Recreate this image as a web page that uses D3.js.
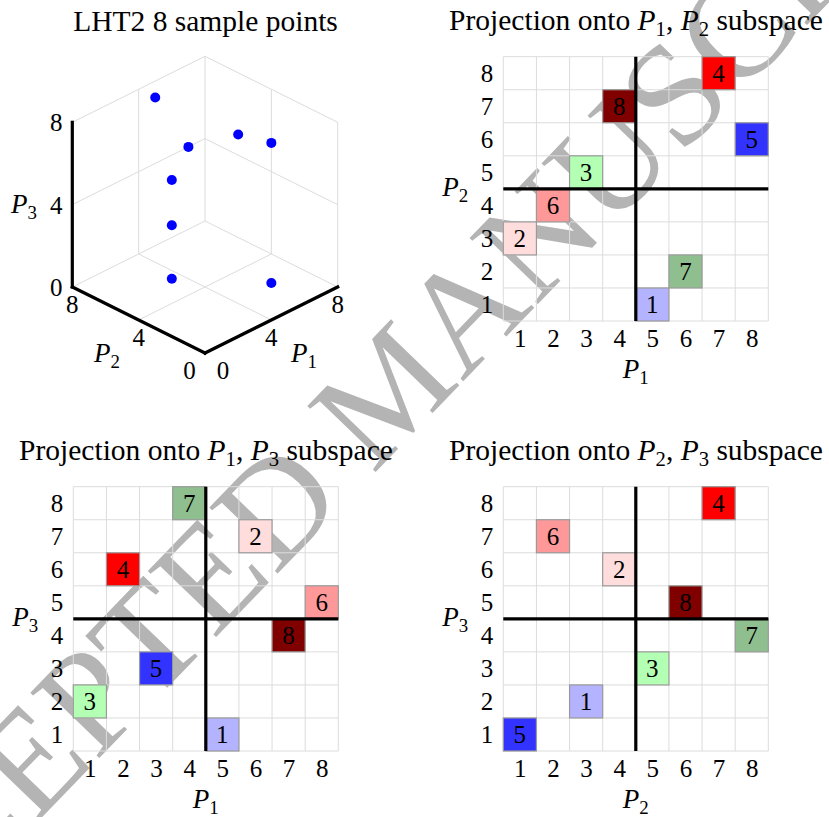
<html>
<head>
<meta charset="utf-8">
<script src="https://cdn.jsdelivr.net/npm/d3@7"></script>
<style>
@font-face { font-family: "LSerifX"; src: local("Liberation Serif"), local("LiberationSerif"), local("LiberationSerif-Regular"); font-style: normal; }
@font-face { font-family: "LSerifX"; src: local("Liberation Serif Italic"), local("LiberationSerif-Italic"); font-style: italic; }
</style>
</head>
<body style="margin:0">
<script>
// ---------- data ----------
const pointLabels = [1, 2, 3, 4, 5, 6, 7, 8];
const pointColors = ["#b3b3ff", "#ffdddd", "#b3ffb3", "#ff0000", "#3333ff", "#ff9999", "#8fbf8f", "#800000"];

// 3D sample points
const sampleP1 = [5, 1, 3, 7, 8, 2, 6, 4];
const sampleP2 = [1, 3, 5, 8, 6, 4, 2, 7];
const sampleP3 = [1, 2, 3, 4, 5, 6, 7, 8];
const ticks3D = [0, 4, 8];

// projections as drawn
const projP1P2_x = [5, 1, 3, 7, 8, 2, 6, 4];
const projP1P2_y = [1, 3, 5, 8, 6, 4, 2, 7];
const projP1P3_x = [5, 6, 1, 2, 3, 8, 4, 7];
const projP1P3_y = [1, 7, 2, 6, 3, 5, 8, 4];
const projP2P3_x = [3, 4, 5, 7, 1, 2, 8, 6];
const projP2P3_y = [2, 6, 3, 8, 1, 7, 4, 5];
const ticks2D = [1, 2, 3, 4, 5, 6, 7, 8];
const splitValue = 4.5;

const watermarkText = "ACCEPTED MANUSCRIPT";

// ---------- setup ----------
const W = 829, H = 817;
const FONTLIST = "\"Liberation Serif\", \"LSerifX\", \"Tinos\", \"Times New Roman\", monospace";
const svg = d3.select("body").append("svg")
  .attr("width", W).attr("height", H);
svg.append("rect").attr("width", W).attr("height", H).attr("fill", "#fff");

function serif(sel) { return sel.style("font-family", FONTLIST); }

// watermark (beneath everything)
serif(svg.append("text"))
  .attr("transform", "translate(-173,1040) rotate(-46)")
  .attr("font-size", 145)
  .attr("fill", "#b4b4b4")
  .text(watermarkText);

// helper: text with italic P and subscripts. parts: array of strings or {P:n}
function richText(sel, parts, fs) {
  const sub = 0.7 * fs, shift = 0.22 * fs;
  let pending = 0;
  parts.forEach(p => {
    if (typeof p === "string") {
      const t = serif(sel.append("tspan")).text(p);
      if (pending) { t.attr("dy", pending); pending = 0; }
    } else {
      const t = serif(sel.append("tspan")).style("font-style", "italic").text("P");
      if (pending) { t.attr("dy", pending); pending = 0; }
      serif(sel.append("tspan")).attr("font-size", sub).attr("dy", shift).text(p.P);
      pending = -shift;
    }
  });
  return sel;
}

function title(x, y, parts) {
  const t = serif(svg.append("text")).attr("x", x).attr("y", y)
    .attr("text-anchor", "middle").attr("font-size", 29.5);
  richText(t, parts, 29.5);
  return t;
}

function axisLabel(x, y, n, anchor) {
  const t = serif(svg.append("text")).attr("x", x).attr("y", y)
    .attr("text-anchor", anchor || "middle").attr("font-size", 27);
  richText(t, [{P: n}], 27);
  return t;
}

// ---------- 2D projection panels ----------
function panel2D(cfg) {
  const x = d3.scaleLinear().domain([0.5, 8.5]).range([cfg.left, cfg.left + 265]);
  const y = d3.scaleLinear().domain([0.5, 8.5]).range([cfg.top + 264.3, cfg.top]);
  const g = svg.append("g");
  const lines = d3.range(0.5, 9, 1);
  g.selectAll("line.v").data(lines).join("line")
    .attr("x1", d => x(d)).attr("x2", d => x(d))
    .attr("y1", y(0.5)).attr("y2", y(8.5))
    .attr("stroke", "#dcdcdc").attr("stroke-width", 1);
  g.selectAll("line.h").data(lines).join("line")
    .attr("y1", d => y(d)).attr("y2", d => y(d))
    .attr("x1", x(0.5)).attr("x2", x(8.5))
    .attr("stroke", "#dcdcdc").attr("stroke-width", 1);

  const pts = pointLabels.map((l, i) => ({l, c: pointColors[i], x: cfg.xs[i], y: cfg.ys[i]}));
  g.selectAll("rect.cell").data(pts).join("rect")
    .attr("x", d => x(d.x - 0.5)).attr("y", d => y(d.y + 0.5))
    .attr("width", d => x(d.x + 0.5) - x(d.x - 0.5))
    .attr("height", d => y(d.y - 0.5) - y(d.y + 0.5))
    .attr("fill", d => d.c).attr("stroke", "#9a9a9a").attr("stroke-width", 1.2);

  // split lines
  g.append("line").attr("x1", x(splitValue)).attr("x2", x(splitValue))
    .attr("y1", y(0.5)).attr("y2", y(8.5)).attr("stroke", "#000").attr("stroke-width", 3.2);
  g.append("line").attr("y1", y(splitValue)).attr("y2", y(splitValue))
    .attr("x1", x(0.5)).attr("x2", x(8.5)).attr("stroke", "#000").attr("stroke-width", 3.2);

  // cell labels
  pts.forEach(d => {
    serif(svg.append("text")).attr("x", x(d.x)).attr("y", y(d.y) + 8.5)
      .attr("text-anchor", "middle").attr("font-size", 25).text(d.l);
  });

  // tick labels via axes
  const ax = g.append("g").attr("transform", `translate(0,${y(0.5)})`)
    .call(d3.axisBottom(x).tickValues(ticks2D).tickSize(0).tickPadding(8).tickFormat(d3.format("d")));
  const ay = g.append("g").attr("transform", `translate(${x(0.5)},0)`)
    .call(d3.axisLeft(y).tickValues(ticks2D).tickSize(0).tickPadding(10).tickFormat(d3.format("d")));
  [ax, ay].forEach(a => {
    a.select(".domain").remove();
    a.attr("font-family", null).attr("font-size", null);
    serif(a.selectAll("text")).attr("fill", "#000").attr("font-size", 25);
  });

  axisLabel((x(0.5) + x(8.5)) / 2, y(0.5) + 57, cfg.xn);
  axisLabel(cfg.left - 61, (y(0.5) + y(8.5)) / 2 + 7.5, cfg.yn, "start");
  title(cfg.titleX, cfg.titleY,
    ["Projection onto ", {P: cfg.xn}, ", ", {P: cfg.yn}, " subspace"]);
}

panel2D({left: 503.3, top: 56.7, xs: projP1P2_x, ys: projP1P2_y, xn: 1, yn: 2, titleX: 636, titleY: 30});
panel2D({left: 73.3, top: 486.7, xs: projP1P3_x, ys: projP1P3_y, xn: 1, yn: 3, titleX: 206, titleY: 460});
panel2D({left: 503.3, top: 486.7, xs: projP2P3_x, ys: projP2P3_y, xn: 2, yn: 3, titleX: 636, titleY: 460});

// ---------- 3D panel ----------
const O = {x: 205, y: 353};
const hScale = d3.scaleLinear().domain([0, 8]).range([0, 132.7]);
const vScale = d3.scaleLinear().domain([0, 8]).range([0, 66]);
const zScale = d3.scaleLinear().domain([0, 8]).range([0, 164.7]);
function proj(a, b, c) {
  return [O.x + hScale(a) - hScale(b), O.y - vScale(a) - vScale(b) - zScale(c)];
}
const g3 = svg.append("g");
const gridSegs = [
  [[4,0,0],[4,8,0]], [[8,0,0],[8,8,0]], [[0,4,0],[8,4,0]], [[0,8,0],[8,8,0]],
  [[4,8,0],[4,8,8]], [[8,8,0],[8,8,8]], [[0,8,4],[8,8,4]], [[0,8,8],[8,8,8]],
  [[8,0,0],[8,0,8]], [[8,4,0],[8,4,8]], [[8,0,4],[8,8,4]], [[8,0,8],[8,8,8]]
];
g3.selectAll("line.grid").data(gridSegs).join("line")
  .attr("x1", d => proj(...d[0])[0]).attr("y1", d => proj(...d[0])[1])
  .attr("x2", d => proj(...d[1])[0]).attr("y2", d => proj(...d[1])[1])
  .attr("stroke", "#dcdcdc").attr("stroke-width", 1);

const axisSegs = [
  [[0,0,0],[8,0,0]], [[0,0,0],[0,8,0]], [[0,8,0],[0,8,8]]
];
g3.selectAll("line.axis").data(axisSegs).join("line")
  .attr("x1", d => proj(...d[0])[0]).attr("y1", d => proj(...d[0])[1])
  .attr("x2", d => proj(...d[1])[0]).attr("y2", d => proj(...d[1])[1])
  .attr("stroke", "#000").attr("stroke-width", 3.2).attr("stroke-linecap", "square");

const pts3 = pointLabels.map((l, i) => proj(sampleP1[i], sampleP2[i], sampleP3[i]));
g3.selectAll("circle").data(pts3).join("circle")
  .attr("cx", d => d[0]).attr("cy", d => d[1]).attr("r", 5).attr("fill", "#0000ff");

function tickText(x, y, t) {
  serif(svg.append("text")).attr("x", x).attr("y", y + 8.5)
    .attr("text-anchor", "middle").attr("font-size", 25).text(t);
}
ticks3D.forEach(t => {
  const p = proj(t, 0, 0);
  tickText(p[0] + (t === 0 ? 18 : 0), p[1] + 17.8, t);
  const q = proj(0, t, 0);
  tickText(q[0] - (t === 0 ? 15.5 : 0), q[1] + 17.8, t);
  const r = proj(0, 8, t);
  tickText(r[0] - 16, r[1] + 0.5, t);
});
axisLabel(304, 362, 1);
axisLabel(107, 362, 2);
axisLabel(24, 213, 3);
title(205.5, 30.7, ["LHT2 8 sample points"]);
</script>
</body>
</html>
